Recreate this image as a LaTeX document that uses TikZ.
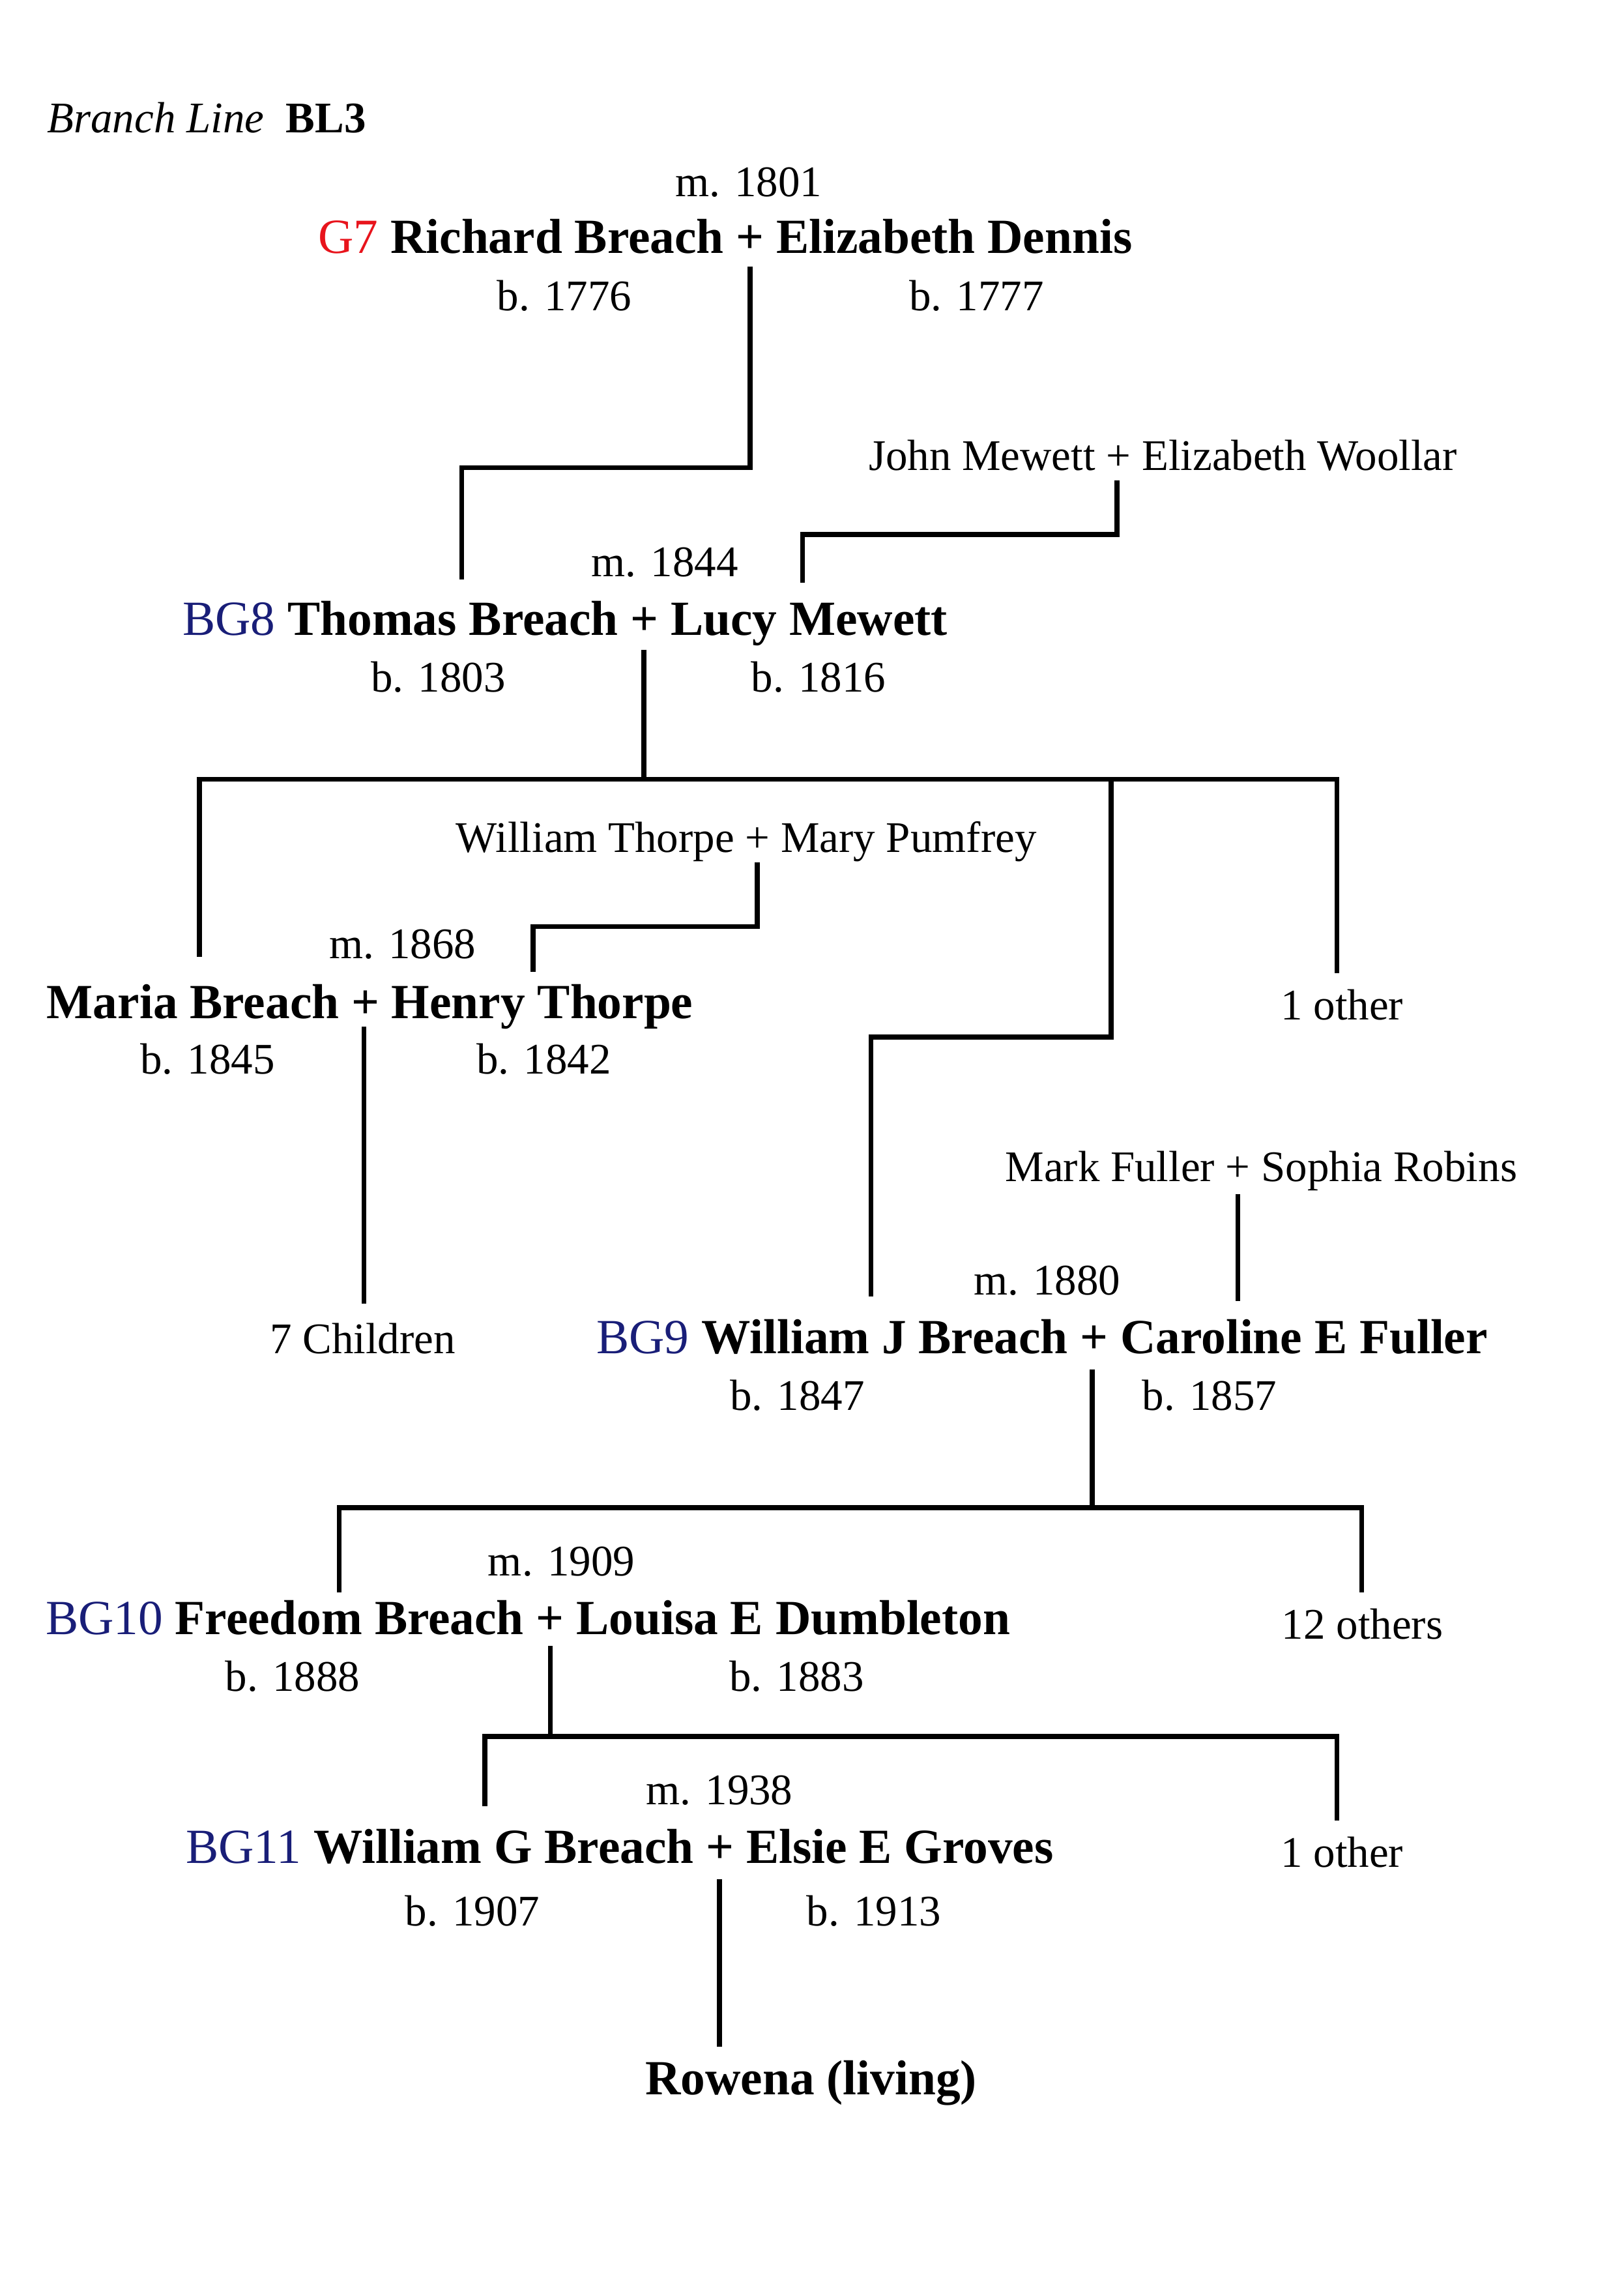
\documentclass[tikz,border=0pt]{standalone}
\usepackage{fontspec}
\setmainfont{Liberation Serif}
\definecolor{gred}{RGB}{232,20,28}
\definecolor{gblue}{RGB}{25,30,120}
\begin{document}
\begin{tikzpicture}[x=0.5339pt,y=-0.5339pt,
  conn/.style={line width=1.8pt},
  nm/.style={font=\fontsize{18}{20}\selectfont\bfseries, anchor=base, inner sep=0pt},
  rg/.style={font=\fontsize{16}{18}\selectfont, anchor=base, inner sep=0pt}]
\useasboundingbox[fill=white] (0,0) rectangle (1115,1568);
% title
\node[rg, anchor=base west] (title) at (32,91) {\textit{Branch Line}\ \ \textbf{BL3}};
% generation G7
\node[rg] (m1801) at (514,135) {m. 1801};
\node[nm] (g7) at (498,174) {\textcolor{gred}{\mdseries G7} Richard Breach + Elizabeth Dennis};
\node[rg] (b1776) at (387.5,213) {b. 1776};
\node[rg] (b1777) at (670.5,213) {b. 1777};
% Mewett parents
\node[rg] (jm) at (798.5,323) {John Mewett + Elizabeth Woollar};
% BG8
\node[rg] (m1844) at (456.5,396) {m. 1844};
\node[nm] (bg8) at (388,436) {\textcolor{gblue}{\mdseries BG8} Thomas Breach + Lucy Mewett};
\node[rg] (b1803) at (301,475) {b. 1803};
\node[rg] (b1816) at (562,475) {b. 1816};
% Thorpe parents
\node[rg] (wt) at (512.5,585) {William Thorpe + Mary Pumfrey};
% Maria
\node[rg] (m1868) at (276.5,658) {m. 1868};
\node[nm] (maria) at (254,699) {Maria Breach + Henry Thorpe};
\node[rg] (oth1) at (921.5,700) {1 other};
\node[rg] (b1845) at (142.5,737) {b. 1845};
\node[rg] (b1842) at (373.5,737) {b. 1842};
\node[rg] (kids) at (249,929) {7 Children};
% Fuller parents
\node[rg] (mf) at (866,811) {Mark Fuller + Sophia Robins};
% BG9
\node[rg] (m1880) at (719,889) {m. 1880};
\node[nm] (bg9) at (715.5,929) {\textcolor{gblue}{\mdseries BG9} William J Breach + Caroline E Fuller};
\node[rg] (b1847) at (547.5,968) {b. 1847};
\node[rg] (b1857) at (830.5,968) {b. 1857};
% BG10
\node[rg] (m1909) at (385.5,1082) {m. 1909};
\node[nm] (bg10) at (362.5,1122) {\textcolor{gblue}{\mdseries BG10} Freedom Breach + Louisa E Dumbleton};
\node[rg] (oth12) at (935.5,1125) {12 others};
\node[rg] (b1888) at (201,1161) {b. 1888};
\node[rg] (b1883) at (547,1161) {b. 1883};
% BG11
\node[rg] (m1938) at (494,1239) {m. 1938};
\node[nm] (bg11) at (425.5,1279) {\textcolor{gblue}{\mdseries BG11} William G Breach + Elsie E Groves};
\node[rg] (oth1b) at (921.5,1282) {1 other};
\node[rg] (b1907) at (324.5,1322) {b. 1907};
\node[rg] (b1913) at (600,1322) {b. 1913};
% Rowena
\node[nm] (row) at (557,1438) {Rowena (living)};

% connector coordinates
\coordinate (a0) at (515,183);
\coordinate (a1) at (515,321);
\coordinate (a2) at (317,321);
\coordinate (a3) at (317,398);
\draw[conn] (a0) -- (a1) -- (a2) -- (a3);

\coordinate (j0) at (767,330);
\coordinate (j1) at (767,367);
\coordinate (j2) at (551,367);
\coordinate (j3) at (551,400);
\draw[conn] (j0) -- (j1) -- (j2) -- (j3);

\coordinate (t0) at (442,446);
\coordinate (t1) at (442,535);
\coordinate (tl) at (137,535);
\coordinate (tr) at (918,535);
\coordinate (tlm) at (137,657);
\coordinate (trm) at (918,668);
\coordinate (tw) at (763,535);
\coordinate (tw1) at (763,712);
\coordinate (tw2) at (598,712);
\coordinate (tw3) at (598,890);
\draw[conn] (t0) -- (t1);
\draw[conn] (tlm) -- (tl) -- (tr) -- (trm);
\draw[conn] (tw) -- (tw1) -- (tw2) -- (tw3);

\coordinate (w0) at (520,592);
\coordinate (w1) at (520,636);
\coordinate (w2) at (366,636);
\coordinate (w3) at (366,667);
\draw[conn] (w0) -- (w1) -- (w2) -- (w3);

\coordinate (mc0) at (250,705);
\coordinate (mc1) at (250,895);
\draw[conn] (mc0) -- (mc1);

\coordinate (f0) at (850,820);
\coordinate (f1) at (850,893);
\draw[conn] (f0) -- (f1);

\coordinate (n0) at (750,940);
\coordinate (n1) at (750,1035);
\coordinate (nl) at (233,1035);
\coordinate (nr) at (935,1035);
\coordinate (nlm) at (233,1093);
\coordinate (nrm) at (935,1093);
\draw[conn] (n0) -- (n1);
\draw[conn] (nlm) -- (nl) -- (nr) -- (nrm);

\coordinate (p0) at (378,1130);
\coordinate (p1) at (378,1192);
\coordinate (pl) at (333,1192);
\coordinate (pr) at (918,1192);
\coordinate (plm) at (333,1240);
\coordinate (prm) at (918,1250);
\draw[conn] (p0) -- (p1);
\draw[conn] (plm) -- (pl) -- (pr) -- (prm);

\coordinate (r0) at (494,1290);
\coordinate (r1) at (494,1405);
\draw[conn] (r0) -- (r1);
\end{tikzpicture}
\end{document}
